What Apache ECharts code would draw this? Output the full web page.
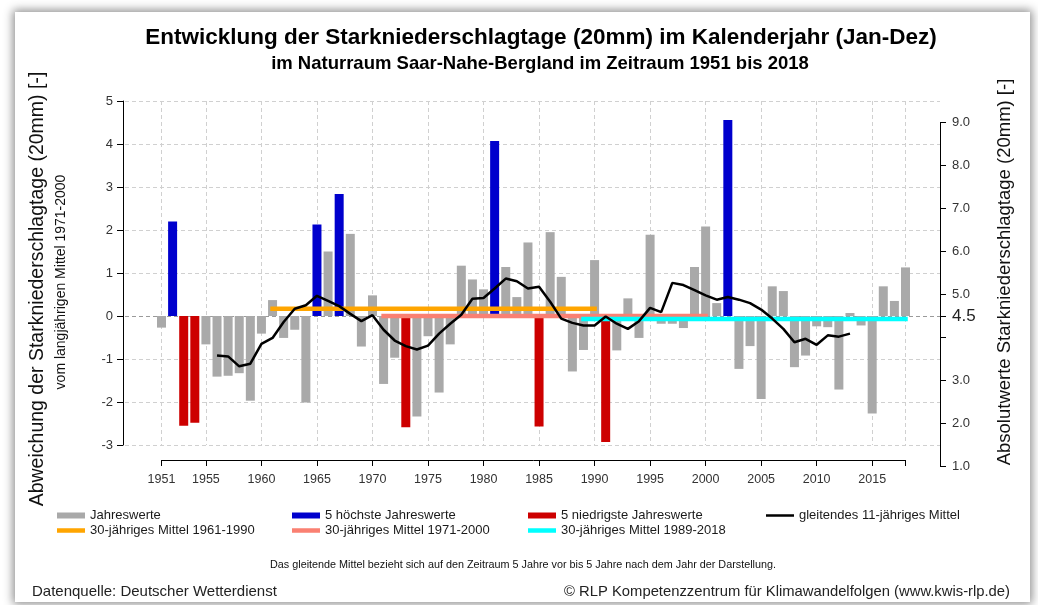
<!DOCTYPE html>
<html>
<head>
<meta charset="utf-8">
<title>Starkniederschlagstage Saar-Nahe-Bergland</title>
<script src="https://cdn.jsdelivr.net/npm/echarts@6/dist/echarts.min.js"></script>
<style>
  body { margin: 0; background: #fff; font-family: "Liberation Sans", Arial, sans-serif; }
  #frame { position: absolute; left: 15px; top: 12px; width: 1015px; height: 590px; background: #fff; box-shadow: 0 0 9px 2px rgba(0,0,0,0.45); }
  #main { position: absolute; left: 0; top: 0; width: 1038px; height: 605px; }
</style>
</head>
<body>
<div id="frame"></div>
<div id="main"></div>
<script type="text/javascript">

// Jahre (Kategorien)
var jahre = [1951,1952,1953,1954,1955,1956,1957,1958,1959,1960,
             1961,1962,1963,1964,1965,1966,1967,1968,1969,1970,
             1971,1972,1973,1974,1975,1976,1977,1978,1979,1980,
             1981,1982,1983,1984,1985,1986,1987,1988,1989,1990,
             1991,1992,1993,1994,1995,1996,1997,1998,1999,2000,
             2001,2002,2003,2004,2005,2006,2007,2008,2009,2010,
             2011,2012,2013,2014,2015,2016,2017,2018];

// Abweichung vom Mittel 1971-2000 (Tage)
var abweichung = [-0.27, 2.20,-2.55,-2.48,-0.66,-1.41,-1.39,-1.33,-1.97,-0.41,
                   0.37,-0.51,-0.32,-2.01, 2.13, 1.50, 2.84, 1.91,-0.71, 0.48,
                  -1.58,-0.97,-2.59,-2.34,-0.47,-1.78,-0.66, 1.17, 0.85, 0.62,
                   4.07, 1.14, 0.44, 1.71,-2.57, 1.95, 0.91,-1.29,-0.79, 1.30,
                  -2.93,-0.80, 0.41,-0.51, 1.89,-0.18,-0.18,-0.28, 1.14, 2.08,
                   0.30, 4.56,-1.23,-0.70,-1.93, 0.69, 0.58,-1.19,-0.92,-0.24,
                  -0.26,-1.71, 0.07,-0.22,-2.27, 0.69, 0.35, 1.13];

var hoechsteJahre = [1952, 1965, 1967, 1981, 2002];
var niedrigsteJahre = [1953, 1954, 1973, 1985, 1991];

// gleitendes 11-jähriges Mittel, 1956 bis 2013
var gleitStart = 1956;
var gleitMittel = [-0.92,-0.94,-1.17,-1.11,-0.65,-0.51,-0.14, 0.17, 0.25, 0.47,
                    0.35, 0.23, 0.05,-0.12, 0.02,-0.32,-0.57,-0.70,-0.78,-0.69,
                   -0.41,-0.18, 0.03, 0.40, 0.42, 0.64, 0.87, 0.81, 0.64, 0.68,
                    0.33,-0.06,-0.16,-0.22,-0.22,-0.01,-0.18,-0.30,-0.12, 0.19,
                    0.09, 0.77, 0.72, 0.60, 0.48, 0.38, 0.44, 0.38, 0.30, 0.15,
                   -0.06,-0.30,-0.61,-0.53,-0.67,-0.45,-0.48,-0.41];

// 30-jährige Mittel
var mittelNamen = ['30-jähriges Mittel 1961-1990', '30-jähriges Mittel 1971-2000', '30-jähriges Mittel 1989-2018'];
var mittelZeitraum = [[1961, 1990], [1971, 2000], [1989, 2018]];
var mittelWerte = [0.17, 0.0, -0.07];
var mittelFarben = ['#ffa500', '#fa8072', '#00ffff'];

// Achsen
var tickJahre = [1951,1955,1960,1965,1970,1975,1980,1985,1990,1995,2000,2005,2010,2015,2018];
var labelJahre = [1951,1955,1960,1965,1970,1975,1980,1985,1990,1995,2000,2005,2010,2015];
// rechte Achse (Absolutwerte), in Schritten von 0.5
var rechtsKat = ['1.0','1.5','2.0','2.5','3.0','3.5','4.0','4.5','5.0','5.5','6.0','6.5','7.0','7.5','8.0','8.5','9.0'];
var rechtsTicks = ['1.0','2.0','3.0','4.0','4.5','5.0','6.0','7.0','8.0','9.0'];
var rechtsLabels = ['1.0','2.0','3.0','4.5','5.0','6.0','7.0','8.0','9.0'];

var kat = jahre.map(String);
var grau = [], hoch = [], tief = [];
jahre.forEach(function (j, i) {
    var v = abweichung[i];
    var h = hoechsteJahre.indexOf(j) >= 0, n = niedrigsteJahre.indexOf(j) >= 0;
    grau.push(h || n ? '-' : v);
    hoch.push(h ? v : '-');
    tief.push(n ? v : '-');
});
var gleitDaten = gleitMittel.map(function (v, i) { return [String(gleitStart + i), v]; });

var txt = '#333';
var font = '"Liberation Sans", Arial, sans-serif';

var series = [
    { name: 'Jahreswerte', type: 'bar', xAxisIndex: 1, yAxisIndex: 1, data: grau,
      barWidth: 9, barGap: '-100%', clip: false, itemStyle: { color: '#a9a9a9' } },
    { name: '5 höchste Jahreswerte', type: 'bar', xAxisIndex: 1, yAxisIndex: 1, data: hoch,
      barWidth: 9, barGap: '-100%', clip: false, itemStyle: { color: '#0000cd' } },
    { name: '5 niedrigste Jahreswerte', type: 'bar', xAxisIndex: 1, yAxisIndex: 1, data: tief,
      barWidth: 9, barGap: '-100%', clip: false, itemStyle: { color: '#cd0000' } }
];
mittelNamen.forEach(function (name, k) {
    var z = mittelZeitraum[k];
    series.push({
        name: name, type: 'line', xAxisIndex: 1, yAxisIndex: 1,
        data: [[String(z[0]), mittelWerte[k]], [String(z[1]), mittelWerte[k]]],
        symbol: 'none', clip: false, silent: true,
        lineStyle: { color: mittelFarben[k], width: 4.5, cap: 'square' },
        itemStyle: { color: mittelFarben[k] }
    });
});
series.push({
    name: 'gleitendes 11-jähriges Mittel', type: 'line', xAxisIndex: 1, yAxisIndex: 1,
    data: gleitDaten, symbol: 'none', clip: false,
    lineStyle: { color: '#000', width: 2.5 }, itemStyle: { color: '#000' }
});

// Legendensymbole: Balken voll, Linien schmaler (Box bleibt 28x6)
var iconBalken = 'rect';
var iconLinie = 'path://M0,0L28,0Z M0,0.8h28v4.4h-28z M0,6L28,6Z';
var iconDuenn = 'path://M0,0L28,0Z M0,1.8h28v2.4h-28z M0,6L28,6Z';

function legende(left, items) {
    return {
        left: left, top: 509, padding: 0, orient: 'vertical', itemWidth: 28, itemHeight: 6, itemGap: 2,
        selectedMode: false, data: items,
        textStyle: { fontSize: 13, color: '#1a1a1a', fontFamily: font }
    };
}

var myChart = echarts.init(document.getElementById('main'));
var option = {
    animation: false,
    textStyle: { fontFamily: font },
    title: [
        { text: 'Entwicklung der Starkniederschlagtage (20mm) im Kalenderjahr (Jan-Dez)',
          left: 536, top: 21, textAlign: 'center',
          textStyle: { fontSize: 22.5, fontWeight: 'bold', color: '#000', fontFamily: font } },
        { text: 'im Naturraum Saar-Nahe-Bergland im Zeitraum 1951 bis 2018',
          left: 535, top: 49, textAlign: 'center',
          textStyle: { fontSize: 18.5, fontWeight: 'bold', color: '#000', fontFamily: font } }
    ],
    legend: [
        legende(57, [{ name: 'Jahreswerte', icon: iconBalken }, { name: mittelNamen[0], icon: iconLinie }]),
        legende(292, [{ name: '5 höchste Jahreswerte', icon: iconBalken }, { name: mittelNamen[1], icon: iconLinie }]),
        legende(528, [{ name: '5 niedrigste Jahreswerte', icon: iconBalken }, { name: mittelNamen[2], icon: iconLinie }]),
        legende(766, [{ name: 'gleitendes 11-jähriges Mittel', icon: iconDuenn }])
    ],
    grid: [
        { left: 125, right: 98, top: 101, bottom: 160 },      // Raster + linke Achse
        { left: 161.5, right: 132.5, top: 101, bottom: 160 }, // Jahre
        { left: 125, right: 98, top: 122.5, bottom: 138.5 }   // rechte Achse (absolut)
    ],
    xAxis: [
        { gridIndex: 0, type: 'value', min: 0, max: 1, show: false },
        { gridIndex: 1, type: 'category', data: kat, boundaryGap: false, position: 'bottom', offset: 15,
          axisLine: { onZero: false, lineStyle: { color: '#000', width: 1 } },
          axisTick: { length: 6, lineStyle: { color: '#000' },
                      interval: function (i, v) { return tickJahre.indexOf(+v) >= 0; } },
          axisLabel: { fontSize: 12.5, color: txt, margin: 13,
                       interval: function (i, v) { return labelJahre.indexOf(+v) >= 0; } },
          splitLine: { show: true, lineStyle: { color: '#d0d0d0', type: [4, 3] },
                       interval: function (i, v) { return tickJahre.indexOf(+v) >= 0; } } },
        { gridIndex: 2, type: 'value', min: 0, max: 1, show: false }
    ],
    yAxis: [
        { gridIndex: 0, type: 'value', min: -3, max: 5, interval: 1, position: 'left', offset: 2,
          axisLine: { show: true, onZero: false, lineStyle: { color: '#000' } },
          axisTick: { show: true, length: 6, lineStyle: { color: '#000' } },
          axisLabel: { fontSize: 13, color: txt, margin: 10 },
          splitLine: { show: true, lineStyle: { type: [4, 3],
              color: ['#d0d0d0','#d0d0d0','#d0d0d0','#9a9a9a','#d0d0d0','#d0d0d0','#d0d0d0','#d0d0d0','#d0d0d0'] } } },
        { gridIndex: 1, type: 'value', min: -3, max: 5, show: false },
        { gridIndex: 2, type: 'category', data: rechtsKat, boundaryGap: false, position: 'right',
          axisLine: { show: true, onZero: false, lineStyle: { color: '#000' } },
          axisTick: { show: true, length: 6, lineStyle: { color: '#000' },
                      interval: function (i, v) { return rechtsTicks.indexOf(v) >= 0; } },
          axisLabel: { fontSize: 13, color: txt, margin: 12,
                       interval: function (i, v) { return rechtsLabels.indexOf(v) >= 0; },
                       formatter: function (v) { return v === '4.5' ? '{gross|4.5}' : v; },
                       rich: { gross: { fontSize: 17, color: '#222', fontFamily: font } } },
          splitLine: { show: false } }
    ],
    graphic: [
        { type: 'text', x: 38, y: 289, rotation: Math.PI / 2,
          style: { text: 'Abweichung der Starkniederschlagtage (20mm) [-]', x: 0, y: 0,
                   textAlign: 'center', textVerticalAlign: 'middle', fontSize: 19.5, fill: '#111', fontFamily: font } },
        { type: 'text', x: 61, y: 282, rotation: Math.PI / 2,
          style: { text: 'vom langjährigen Mittel 1971-2000', x: 0, y: 0,
                   textAlign: 'center', textVerticalAlign: 'middle', fontSize: 14, fill: '#111', fontFamily: font } },
        { type: 'text', x: 1005, y: 272, rotation: Math.PI / 2,
          style: { text: 'Absolutwerte Starkniederschlagtage (20mm) [-]', x: 0, y: 0,
                   textAlign: 'center', textVerticalAlign: 'middle', fontSize: 18.5, fill: '#111', fontFamily: font } },
        { type: 'text', x: 523, y: 565,
          style: { text: 'Das gleitende Mittel bezieht sich auf den Zeitraum 5 Jahre vor bis 5 Jahre nach dem Jahr der Darstellung.',
                   textAlign: 'center', textVerticalAlign: 'middle', fontSize: 10.8, fill: '#111', fontFamily: font } },
        { type: 'text', x: 32, y: 592,
          style: { text: 'Datenquelle: Deutscher Wetterdienst', textAlign: 'left', textVerticalAlign: 'middle',
                   fontSize: 15, fill: '#222', fontFamily: font } },
        { type: 'text', x: 1010, y: 592,
          style: { text: '© RLP Kompetenzzentrum für Klimawandelfolgen (www.kwis-rlp.de)', textAlign: 'right',
                   textVerticalAlign: 'middle', fontSize: 14.8, fill: '#222', fontFamily: font } }
    ],
    series: series
};
myChart.setOption(option);
</script>
</body>
</html>
